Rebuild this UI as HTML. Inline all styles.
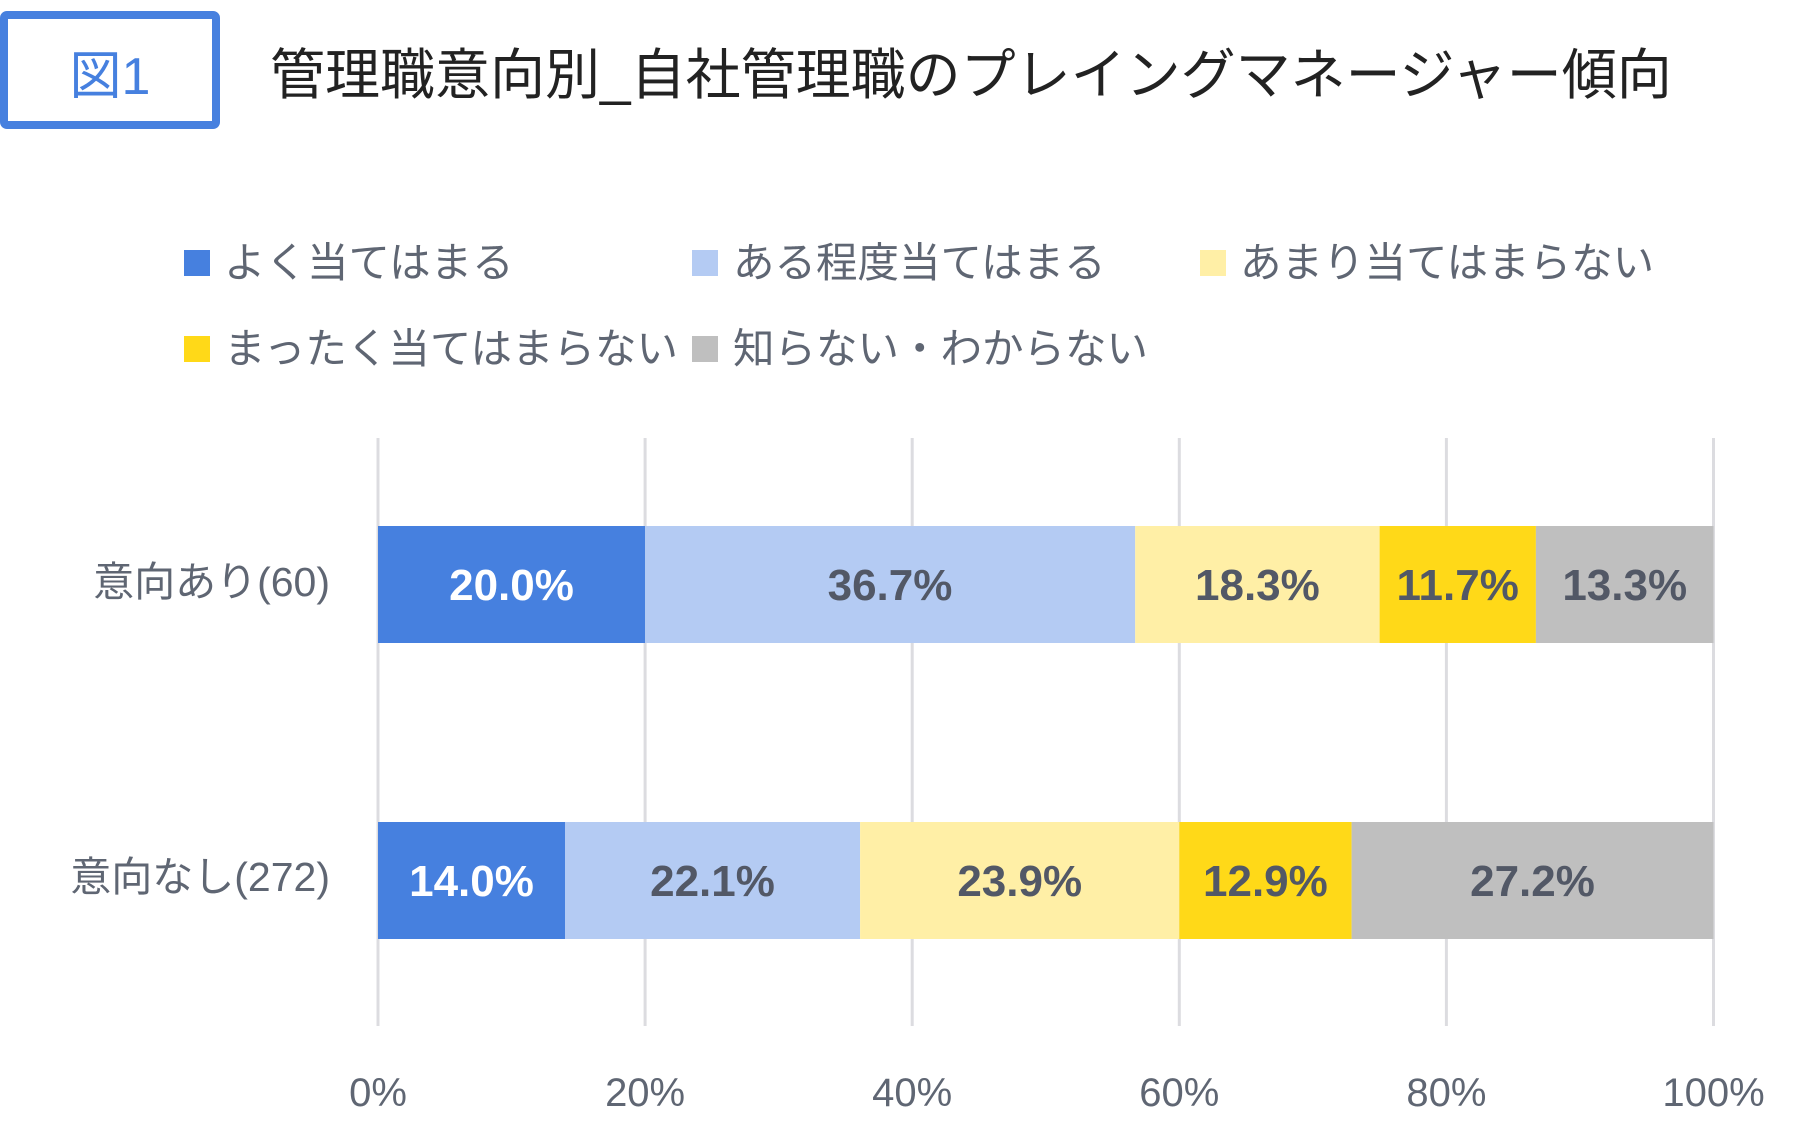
<!DOCTYPE html>
<html><head><meta charset="utf-8"><style>
html,body{margin:0;padding:0;background:#fff;}
svg{display:block;font-family:"Liberation Sans","Noto Sans CJK JP",sans-serif;}
</style></head><body>
<svg width="1817" height="1148" viewBox="0 0 1817 1148" xmlns="http://www.w3.org/2000/svg">
<rect x="0" y="0" width="1817" height="1148" fill="#fff"/>
<rect x="4" y="15" width="212" height="110" rx="3" fill="none" stroke="#4680DF" stroke-width="8"/>
<text x="110" y="94" text-anchor="middle" font-size="52" fill="#4680DF">図1</text>
<text x="270" y="94" font-size="55" fill="#222">管理職意向別_自社管理職のプレイングマネージャー傾向</text>
<g font-size="41.5" fill="#5f6673">
<rect x="184" y="250" width="26" height="26" fill="#4680DF"/><text x="224" y="277">よく当てはまる</text>
<rect x="692" y="250" width="26" height="26" fill="#B4CBF3"/><text x="733" y="277">ある程度当てはまる</text>
<rect x="1200" y="250" width="26" height="26" fill="#FFEFA6"/><text x="1240" y="277">あまり当てはまらない</text>
<rect x="184" y="336" width="26" height="26" fill="#FFD918"/><text x="224" y="363">まったく当てはまらない</text>
<rect x="692" y="336" width="26" height="26" fill="#BFBFBF"/><text x="733" y="363">知らない・わからない</text>
</g>
<g stroke="#dcdce0" stroke-width="3">
<line x1="378" y1="438" x2="378" y2="1026"/><line x1="645.1" y1="438" x2="645.1" y2="1026"/>
<line x1="912.2" y1="438" x2="912.2" y2="1026"/><line x1="1179.3" y1="438" x2="1179.3" y2="1026"/>
<line x1="1446.4" y1="438" x2="1446.4" y2="1026"/><line x1="1713.5" y1="438" x2="1713.5" y2="1026"/>
</g>
<rect x="378" y="526" width="267.1" height="117" fill="#4680DF"/>
<rect x="645.1" y="526" width="490.1" height="117" fill="#B4CBF3"/>
<rect x="1135.2" y="526" width="244.4" height="117" fill="#FFEFA6"/>
<rect x="1379.6" y="526" width="156.3" height="117" fill="#FFD918"/>
<rect x="1535.9" y="526" width="177.6" height="117" fill="#BFBFBF"/>
<rect x="378" y="822" width="187" height="117" fill="#4680DF"/>
<rect x="565" y="822" width="295.1" height="117" fill="#B4CBF3"/>
<rect x="860.1" y="822" width="319.2" height="117" fill="#FFEFA6"/>
<rect x="1179.3" y="822" width="172.3" height="117" fill="#FFD918"/>
<rect x="1351.6" y="822" width="361.9" height="117" fill="#BFBFBF"/>
<g font-size="44" font-weight="bold" text-anchor="middle" fill="#525866">
<text x="511.5" y="600" fill="#fff">20.0%</text><text x="890" y="600">36.7%</text>
<text x="1257.4" y="600">18.3%</text><text x="1457.7" y="600">11.7%</text><text x="1624.7" y="600">13.3%</text>
<text x="471.5" y="896" fill="#fff">14.0%</text><text x="712.5" y="896">22.1%</text>
<text x="1019.7" y="896">23.9%</text><text x="1265.4" y="896">12.9%</text><text x="1532.5" y="896">27.2%</text>
</g>
<g font-size="41" fill="#5f6673" text-anchor="end">
<text x="330" y="596">意向あり(60)</text><text x="330" y="891">意向なし(272)</text>
</g>
<g font-size="40" fill="#5f6673" text-anchor="middle">
<text x="378" y="1106">0%</text><text x="645.1" y="1106">20%</text><text x="912.2" y="1106">40%</text>
<text x="1179.3" y="1106">60%</text><text x="1446.4" y="1106">80%</text><text x="1713.5" y="1106">100%</text>
</g>
</svg>
</body></html>
